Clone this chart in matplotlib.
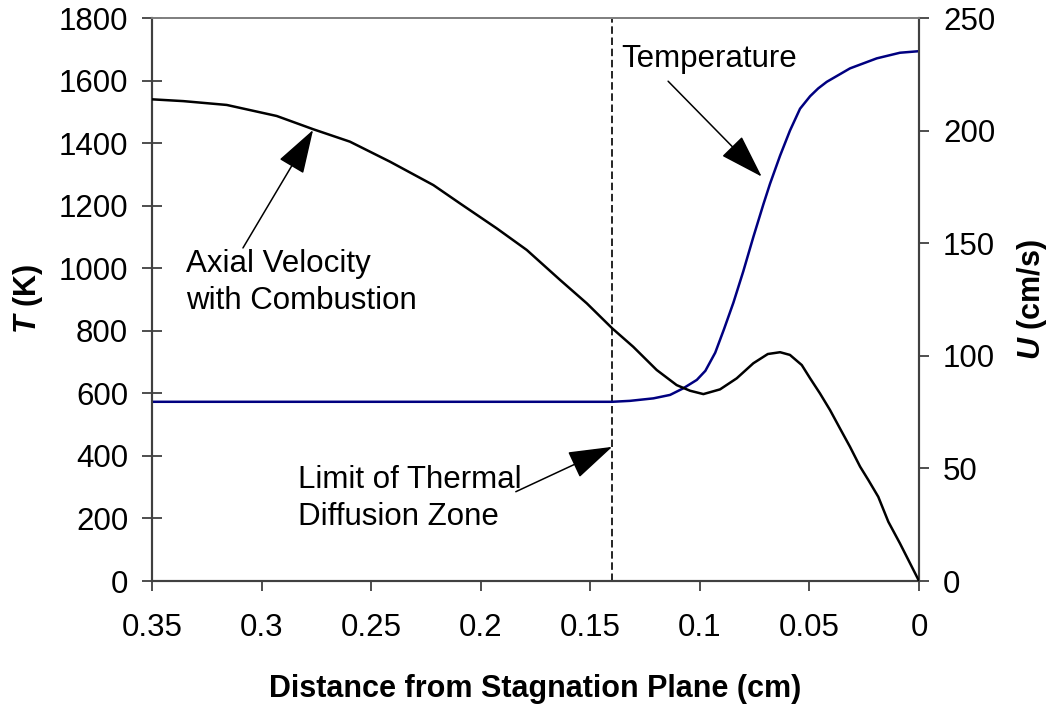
import matplotlib
matplotlib.use('Agg')
import matplotlib.pyplot as plt
from matplotlib.ticker import FuncFormatter

# Temperature profile (left axis, K)
temp_x = [0.35, 0.14, 0.1319, 0.1212, 0.1136, 0.1076, 0.1014, 0.0975, 0.093, 0.089,
          0.0847, 0.0802, 0.0756, 0.071, 0.068, 0.0634, 0.0589, 0.0543, 0.0497,
          0.046, 0.0421, 0.0315, 0.0193, 0.0087, 0.0]
temp_T = [573, 573, 576, 584, 595, 616, 643, 672, 730, 805,
          890, 990, 1100, 1205, 1270, 1360, 1440, 1510, 1550,
          1575, 1596, 1639, 1671, 1689, 1694]

# Axial velocity with combustion (right axis, cm/s)
vel_x = [0.35, 0.3357, 0.3159, 0.2931, 0.2764, 0.2597, 0.2414, 0.2216, 0.2095, 0.1927,
         0.179, 0.1638, 0.1516, 0.14, 0.1304, 0.1197, 0.1106, 0.1045, 0.0984, 0.0908,
         0.0832, 0.0756, 0.069, 0.0634, 0.0589, 0.0535, 0.0497, 0.0452, 0.0406, 0.0361,
         0.0315, 0.0269, 0.0231, 0.0186, 0.014, 0.0087, 0.0]
vel_U = [213.9, 213.1, 211.4, 206.5, 200.6, 195.1, 186.2, 175.8, 167.7, 156.6,
         147.0, 133.7, 123.3, 112.2, 104.0, 93.7, 87.0, 84.5, 83.0, 85.1,
         90.0, 96.7, 100.8, 101.6, 100.4, 95.9, 90.0, 83.3, 75.9, 67.8,
         59.6, 50.8, 44.8, 37.4, 26.3, 16.7, 0.0]

x_ticks = [0.35, 0.3, 0.25, 0.2, 0.15, 0.1, 0.05, 0]
thermal_limit = 0.14

plt.rcParams['font.family'] = ['Liberation Sans', 'DejaVu Sans']
plt.rcParams['mathtext.fontset'] = 'custom'
plt.rcParams['mathtext.it'] = 'Liberation Sans:italic:bold'
plt.rcParams['mathtext.rm'] = 'Liberation Sans:bold'
plt.rcParams['mathtext.bf'] = 'Liberation Sans:bold'

fig = plt.figure(figsize=(10.52, 7.04), dpi=100)
ax = fig.add_axes([0.1445, 0.1747, 0.7291, 0.7997])
ax2 = ax.twinx()

axis_col = '#404040'

ax.plot(temp_x, temp_T, color='#000080', lw=1.8, zorder=3, solid_joinstyle='round')
ax2.plot(vel_x, vel_U, color='black', lw=1.8, zorder=3, solid_joinstyle='round')
ax.axvline(thermal_limit, color='black', lw=1.2, dashes=(4.5, 2.2), zorder=2)

ax.set_xlim(0.35, 0)
ax.set_ylim(0, 1800)
ax2.set_ylim(0, 250)
ax.set_xticks(x_ticks)
ax.xaxis.set_major_formatter(FuncFormatter(lambda v, p: f'{v:g}'))
ax.set_yticks(range(0, 1801, 200))
ax2.set_yticks(range(0, 251, 50))

ax.tick_params(axis='y', direction='inout', length=14.4, width=1.3, color=axis_col,
               labelsize=22.5, pad=10)
ax.tick_params(axis='x', direction='out', length=7.2, width=1.3, color=axis_col,
               labelsize=22.5, pad=16)
ax2.tick_params(axis='y', direction='out', length=7.2, width=1.3, color=axis_col,
                labelsize=22.5, pad=10)

for a in (ax, ax2):
    for side in ('left', 'right', 'bottom'):
        a.spines[side].set_color(axis_col)
        a.spines[side].set_linewidth(1.5)
    a.spines['top'].set_color('#808080')
    a.spines['top'].set_linewidth(1.3)

ax.set_xlabel('Distance from Stagnation Plane (cm)', fontsize=22, fontweight='bold',
              labelpad=22)
ax.set_ylabel(r'$\mathit{T}$ (K)', fontsize=22, fontweight='bold', labelpad=10)
ax2.set_ylabel(r'$\mathit{U}$ (cm/s)', fontsize=22, fontweight='bold', labelpad=14)

arrow = dict(arrowstyle='-|>,head_length=1.4,head_width=0.45', color='black', lw=1.1,
             shrinkA=0, shrinkB=0, mutation_scale=20)

# Axial velocity label
ax2.text(0.3345, 132.5, 'Axial Velocity\nwith Combustion', fontsize=22.5,
         ha='left', va='center', linespacing=1.3)
ax2.annotate('', xy=(0.2765, 200.3), xytext=(0.3085, 147.9), arrowprops=arrow)

# Temperature label
ax.text(0.136, 1669, 'Temperature', fontsize=22.5, ha='left', va='center')
ax.annotate('', xy=(0.0718, 1293), xytext=(0.1145, 1598), arrowprops=arrow)

# Thermal diffusion zone label
ax.text(0.2834, 265, 'Limit of Thermal\nDiffusion Zone', fontsize=22.5,
        ha='left', va='center', linespacing=1.3)
ax.annotate('', xy=(thermal_limit, 429), xytext=(0.184, 285.5), arrowprops=arrow)

fig.savefig('out.png', dpi=100)
